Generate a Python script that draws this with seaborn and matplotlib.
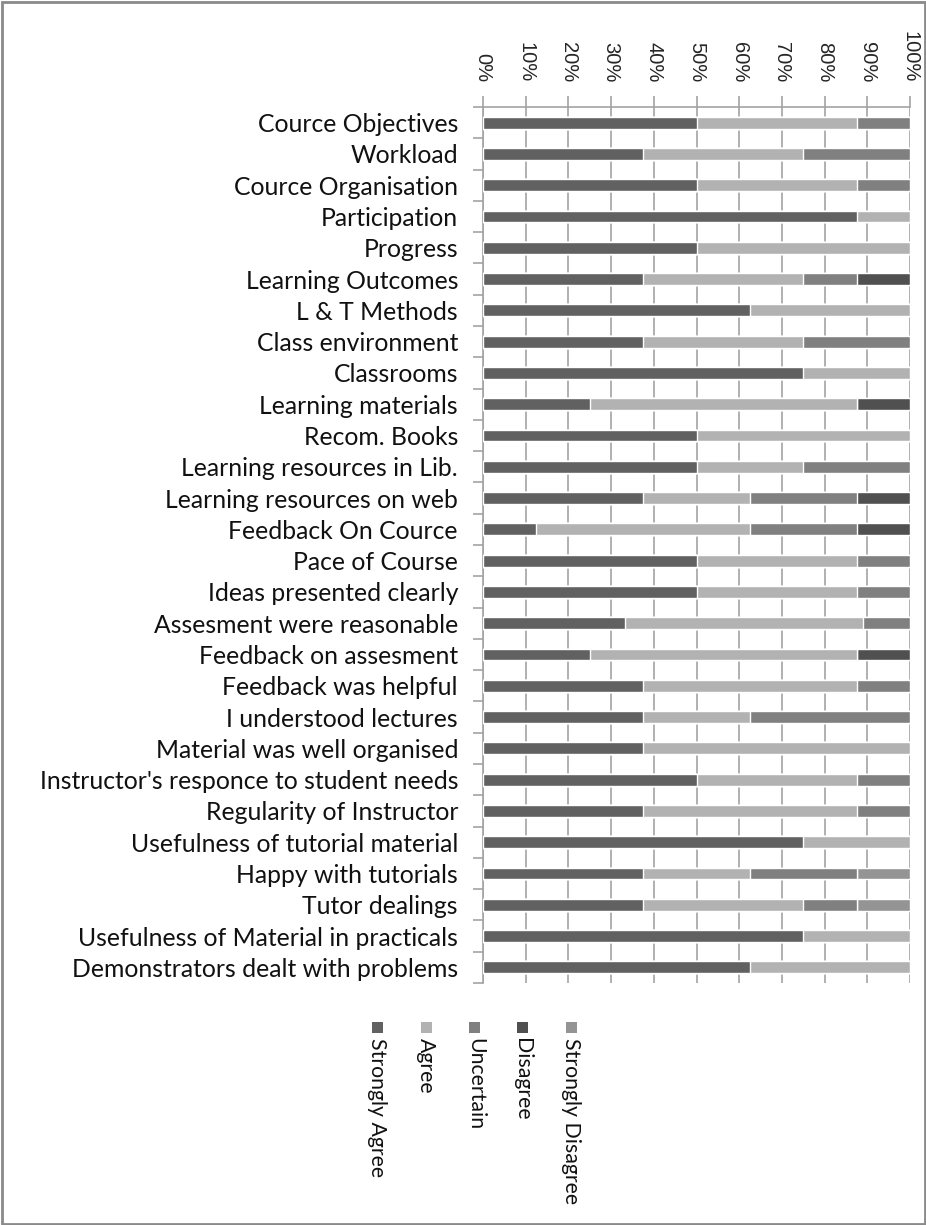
import numpy as np
import pandas as pd
import matplotlib
matplotlib.use("Agg")
import matplotlib.pyplot as plt
import seaborn as sns
from matplotlib.patches import Rectangle

categories = [
    "Cource Objectives", "Workload", "Cource Organisation", "Participation",
    "Progress", "Learning Outcomes", "L & T Methods", "Class environment",
    "Classrooms", "Learning materials", "Recom. Books",
    "Learning resources in Lib.", "Learning resources on web",
    "Feedback On Cource", "Pace of Course", "Ideas presented clearly",
    "Assesment were reasonable", "Feedback on assesment",
    "Feedback was helpful", "I understood lectures",
    "Material was well organised", "Instructor's responce to student needs",
    "Regularity of Instructor", "Usefulness of tutorial material",
    "Happy with tutorials", "Tutor dealings",
    "Usefulness of Material in practicals", "Demonstrators dealt with problems",
]
series_names = ["Strongly Agree", "Agree", "Uncertain", "Disagree", "Strongly Disagree"]
strongly_agree = [50, 37.5, 50, 87.5, 50, 37.5, 62.5, 37.5, 75, 25, 50, 50, 37.5, 12.5,
                  50, 50, 33.3, 25, 37.5, 37.5, 37.5, 50, 37.5, 75, 37.5, 37.5, 75, 62.5]
agree = [37.5, 37.5, 37.5, 12.5, 50, 37.5, 37.5, 37.5, 25, 62.5, 50, 25, 25, 50,
         37.5, 37.5, 55.6, 62.5, 50, 25, 62.5, 37.5, 50, 25, 25, 37.5, 25, 37.5]
uncertain = [12.5, 25, 12.5, 0, 0, 12.5, 0, 25, 0, 0, 0, 25, 25, 25,
             12.5, 12.5, 11.1, 0, 12.5, 37.5, 0, 12.5, 12.5, 0, 25, 12.5, 0, 0]
disagree = [0, 0, 0, 0, 0, 12.5, 0, 0, 0, 12.5, 0, 0, 12.5, 12.5,
            0, 0, 0, 12.5, 0, 0, 0, 0, 0, 0, 0, 0, 0, 0]
strongly_disagree = [0, 0, 0, 0, 0, 0, 0, 0, 0, 0, 0, 0, 0, 0,
                     0, 0, 0, 0, 0, 0, 0, 0, 0, 0, 12.5, 12.5, 0, 0]
colors = ["#616161", "#b2b2b2", "#808080", "#505050", "#949494"]

sns.set_style("white")
plt.rcParams["font.family"] = ["Lato", "DejaVu Sans"]

data = np.array([strongly_agree, agree, uncertain, disagree, strongly_disagree], dtype=float)
totals = data.sum(axis=0)
pct = data / totals * 100
cum = np.cumsum(pct, axis=0)

fig = plt.figure(figsize=(9.26, 12.25), dpi=100)
ax = fig.add_axes([483/926, 1 - 983/1225, (910-483)/926, (983-107)/1225])

for i in range(len(series_names) - 1, -1, -1):
    df = pd.DataFrame({"cat": categories, "val": cum[i]})
    sns.barplot(data=df, x="val", y="cat", orient="h", color=colors[i],
                width=0.38, saturation=1, ax=ax, errorbar=None, zorder=3)

ax.set_xlim(0, 100)
ax.set_ylim(len(categories) - 0.5, -0.5)
ax.set_xlabel("")
ax.set_ylabel("")

grid_c = "#a3a3a3"
ax.set_xticks(np.arange(0, 101, 10))
ax.set_xticklabels([f"{v}%" for v in range(0, 101, 10)], rotation=-90,
                   family=["Liberation Sans"], fontsize=14.5)
ax.xaxis.set_ticks_position("top")
ax.xaxis.set_label_position("top")
ax.tick_params(axis="x", top=True, bottom=False, labeltop=True, labelbottom=False,
               length=8, width=1.2, color=grid_c, pad=10)
ax.xaxis.grid(True, color=grid_c, linewidth=1.2, zorder=0)
ax.set_axisbelow(True)

ax.tick_params(axis="y", which="major", length=0, pad=18, labelsize=17.8, labelcolor="#111111")
ax.set_yticks(np.arange(-0.5, len(categories), 1), minor=True)
ax.tick_params(axis="y", which="minor", length=7, width=1.2, color=grid_c, left=True)

for s in ["right", "bottom"]:
    ax.spines[s].set_visible(False)
for s in ["left", "top"]:
    ax.spines[s].set_color(grid_c)
    ax.spines[s].set_linewidth(1.2)

# legend (manual, rotated text)
leg_x = [377, 426, 475, 522, 571]
for xc, name, c in zip(leg_x, series_names, colors):
    fig.add_artist(Rectangle(((xc - 5.5) / 926, 1 - 1033 / 1225), 11 / 926, 11 / 1225,
                             transform=fig.transFigure, facecolor=c, edgecolor="none"))
    fig.text(xc / 926, 1 - 1038 / 1225, name, rotation=-90, ha="center", va="top",
             fontsize=15.3, family=["Lato"], color="#111111")

# figure frame
fig.add_artist(Rectangle((1.5 / 926, 1.5 / 1225), 1 - 3 / 926, 1 - 3 / 1225,
                         transform=fig.transFigure, facecolor="none",
                         edgecolor="#8a8a8a", linewidth=2))

fig.savefig("out.png", dpi=100)
